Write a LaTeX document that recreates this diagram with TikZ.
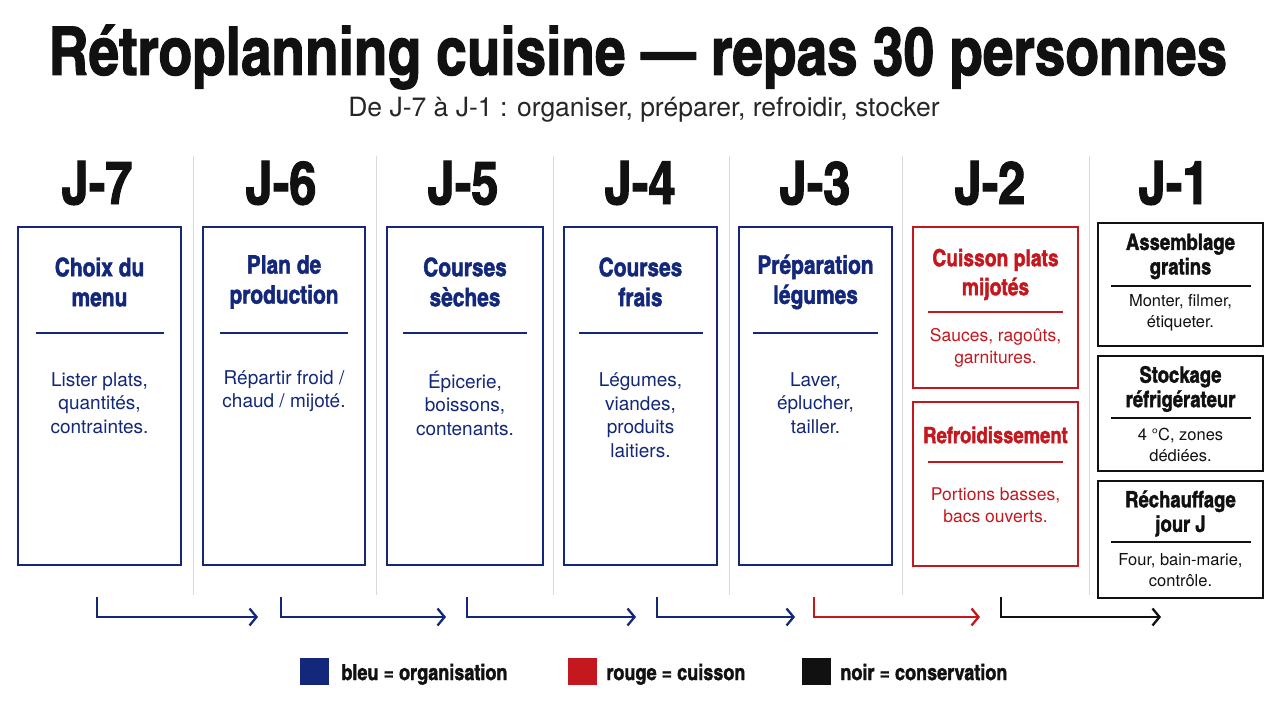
\documentclass[tikz,border=0pt]{standalone}
\usepackage{fontspec}
\setmainfont{texgyreheros}[Extension=.otf, UprightFont=*-regular, BoldFont=texgyreheroscn-bold, BoldFeatures={FakeBold=1.6}]
\usepackage{xcolor}
\usetikzlibrary{arrows.meta,positioning}

\definecolor{navy}{HTML}{13287A}
\definecolor{cookred}{HTML}{C4171E}
\definecolor{inkblack}{HTML}{111111}
\definecolor{sepgray}{HTML}{DADADA}

\begin{document}
\begin{tikzpicture}[
  x=1pt, y=-1pt,
  dayhead/.style={font=\bfseries\fontsize{60}{64}\selectfont, text=inkblack, inner sep=0pt},
  card/.style={draw, line width=2.3pt, inner sep=0pt},
  cardtitle/.style={font=\bfseries\fontsize{25.5}{30}\selectfont, align=center, inner sep=0pt},
  cardbody/.style={font=\fontsize{19}{23.5}\selectfont, align=center, inner sep=0pt},
  keeptitle/.style={font=\bfseries\fontsize{22.5}{24.5}\selectfont, align=center, inner sep=0pt},
  keepbody/.style={font=\fontsize{16.5}{21}\selectfont, align=center, inner sep=0pt},
  rule/.style={line width=1.6pt},
  daysep/.style={draw=sepgray, line width=0.9pt},
  flow/.style={line width=2.3pt, -{Straight Barb[length=7pt,width=17pt]}},
  legsq/.style={minimum width=29pt, minimum height=27pt, inner sep=0pt},
  legtxt/.style={font=\bfseries\fontsize{22}{24}\selectfont, text=inkblack, inner sep=0pt, text height=21pt, text depth=4pt}
]
\useasboundingbox[fill=white] (0,0) rectangle (1280,720);

\node[font=\bfseries\fontsize{67}{70}\selectfont, text=inkblack] (title) at (638,57) {Rétroplanning cuisine — repas 30 personnes};
\node[font=\fontsize{26.5}{30}\selectfont, text=black!85] (subtitle) at (644,110) {De J-7 à J-1 : organiser, préparer, refroidir, stocker};

% separateurs de jours
\draw[daysep] (193,156) -- (193,595);
\draw[daysep] (376,156) -- (376,595);
\draw[daysep] (553,156) -- (553,595);
\draw[daysep] (729,156) -- (729,595);
\draw[daysep] (902,156) -- (902,595);
\draw[daysep] (1089,156) -- (1089,595);

\node[dayhead] (d7) at (97,183) {J-7};
\node[dayhead] (d6) at (281,183) {J-6};
\node[dayhead] (d5) at (463,183) {J-5};
\node[dayhead] (d4) at (640,183) {J-4};
\node[dayhead] (d3) at (815,183) {J-3};
\node[dayhead] (d2) at (990,183) {J-2};
\node[dayhead] (d1) at (1174,183) {J-1};

% organisation (bleu)
\node[card, draw=navy, minimum width=163pt, minimum height=338pt] (menu) at (99.5,396) {};
\node[card, draw=navy, minimum width=162pt, minimum height=338pt] (plan) at (284,396) {};
\node[card, draw=navy, minimum width=156pt, minimum height=338pt] (seches) at (465,396) {};
\node[card, draw=navy, minimum width=153pt, minimum height=338pt] (frais) at (640.5,396) {};
\node[card, draw=navy, minimum width=153pt, minimum height=338pt] (legumes) at (815.5,396) {};

\node[cardtitle, text=navy] (menu_t) at (99.5,282) {Choix du\\menu};
\node[cardtitle, text=navy] (plan_t) at (284,282) {Plan de\\production};
\node[cardtitle, text=navy] (seches_t) at (465,282) {Courses\\sèches};
\node[cardtitle, text=navy] (frais_t) at (640.5,282) {Courses\\frais};
\node[cardtitle, text=navy] (legumes_t) at (815.5,282) {Préparation\\légumes};

\draw[rule, navy] (36,333) -- (164,333);
\draw[rule, navy] (220,333) -- (348,333);
\draw[rule, navy] (403,333) -- (527,333);
\draw[rule, navy] (579,333) -- (703,333);
\draw[rule, navy] (753,333) -- (878,333);

\node[cardbody, text=navy] (menu_b) at (99.5,403) {Lister plats,\\quantités,\\contraintes.};
\node[cardbody, text=navy] (plan_b) at (284,391) {Répartir froid /\\chaud / mijoté.};
\node[cardbody, text=navy] (seches_b) at (465,403) {Épicerie,\\boissons,\\contenants.};
\node[cardbody, text=navy] (frais_b) at (640.5,415) {Légumes,\\viandes,\\produits\\laitiers.};
\node[cardbody, text=navy] (legumes_b) at (815.5,403) {Laver,\\éplucher,\\tailler.};

% cuisson (rouge)
\node[card, draw=cookred, minimum width=165pt, minimum height=161pt] (mijotes) at (995.5,307.5) {};
\node[card, draw=cookred, minimum width=165pt, minimum height=164pt] (froid) at (995.5,484) {};
\node[cardtitle, text=cookred, font=\bfseries\fontsize{23.5}{29}\selectfont] (mijotes_t) at (995.5,274.5) {Cuisson plats\\mijotés};
\node[cardtitle, text=cookred, font=\bfseries\fontsize{22.5}{29}\selectfont] (froid_t) at (995.5,435) {Refroidissement};
\draw[rule, cookred] (928,312) -- (1063,312);
\draw[rule, cookred] (928,462) -- (1063,462);
\node[cardbody, text=cookred, font=\fontsize{17.5}{22}\selectfont] (mijotes_b) at (995.5,348) {Sauces, ragoûts,\\garnitures.};
\node[cardbody, text=cookred, font=\fontsize{17.5}{22}\selectfont] (froid_b) at (995.5,505) {Portions basses,\\bacs ouverts.};

% conservation (noir)
\node[card, draw=inkblack, minimum width=165pt, minimum height=123pt] (gratins) at (1180.5,284.5) {};
\node[card, draw=inkblack, minimum width=165pt, minimum height=115pt] (frigo) at (1180.5,413.5) {};
\node[card, draw=inkblack, minimum width=165pt, minimum height=117pt] (rechauf) at (1180.5,539.5) {};
\node[keeptitle, text=inkblack] (gratins_t) at (1180.5,256.5) {Assemblage\\gratins};
\node[keeptitle, text=inkblack] (frigo_t) at (1180.5,389) {Stockage\\réfrigérateur};
\node[keeptitle, text=inkblack] (rechauf_t) at (1180.5,513.5) {Réchauffage\\jour J};
\draw[rule, inkblack] (1111,286) -- (1251,286);
\draw[rule, inkblack] (1111,418) -- (1251,418);
\draw[rule, inkblack] (1111,542) -- (1251,542);
\node[keepbody, text=inkblack] (gratins_b) at (1180.5,313) {Monter, filmer,\\étiqueter.};
\node[keepbody, text=inkblack] (frigo_b) at (1180.5,445) {4 °C, zones\\dédiées.};
\node[keepbody, text=inkblack] (rechauf_b) at (1180.5,570.5) {Four, bain-marie,\\contrôle.};

% fleches d'enchainement
\coordinate (f7s) at (97,597);   \coordinate (f7e) at (258,617);
\coordinate (f6s) at (281,597);  \coordinate (f6e) at (446,617);
\coordinate (f5s) at (467,597);  \coordinate (f5e) at (636,617);
\coordinate (f4s) at (657,597);  \coordinate (f4e) at (795,617);
\coordinate (f3s) at (814,597);  \coordinate (f3e) at (980,617);
\coordinate (f2s) at (1001,597); \coordinate (f2e) at (1161,617);
\draw[flow, navy] (f7s) |- (f7e);
\draw[flow, navy] (f6s) |- (f6e);
\draw[flow, navy] (f5s) |- (f5e);
\draw[flow, navy] (f4s) |- (f4e);
\draw[flow, cookred] (f3s) |- (f3e);
\draw[flow, inkblack] (f2s) |- (f2e);

% legende
\node[legsq, fill=navy] (lg_org) at (314.5,671.5) {};
\node[legtxt, right=12pt of lg_org] (lg_org_t) {bleu = organisation};
\node[legsq, fill=cookred] (lg_cuis) at (582.5,671.5) {};
\node[legtxt, right=9pt of lg_cuis] (lg_cuis_t) {rouge = cuisson};
\node[legsq, fill=inkblack] (lg_cons) at (816.5,671.5) {};
\node[legtxt, right=9pt of lg_cons] (lg_cons_t) {noir = conservation};
\end{tikzpicture}
\end{document}
